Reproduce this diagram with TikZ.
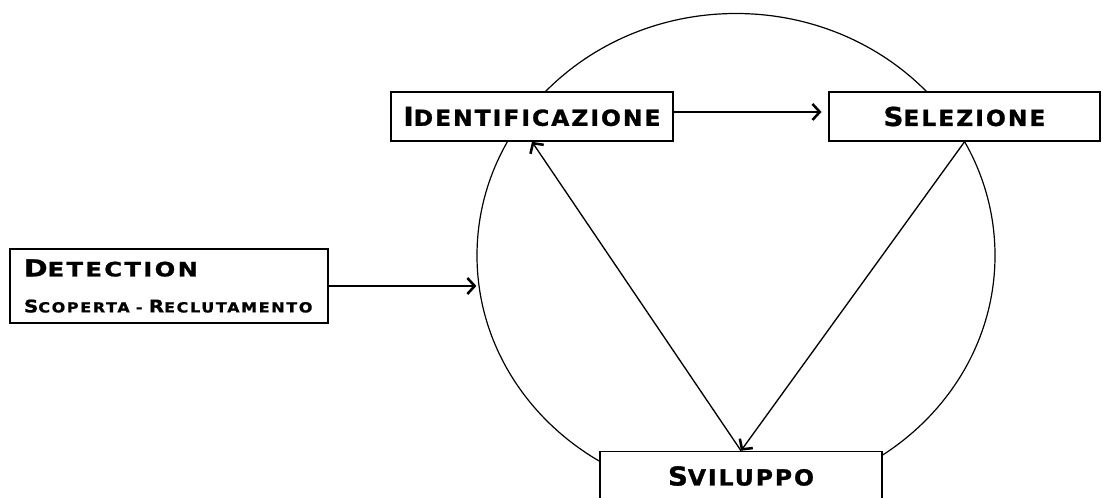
\documentclass[tikz,border=0pt]{standalone}
\usepackage{fontspec}
\usepackage{graphicx}
\usetikzlibrary{shapes.geometric,arrows.meta,shadows}
\newfontfamily\copperfont{DejaVu Sans}[LetterSpace=9,FakeBold=1.2,FakeStretch=1.06]
\newcommand\capword[3][0.85]{#2\scalebox{#1}{#3}}

\begin{document}
\begin{tikzpicture}[x=0.75pt,y=-0.75pt,
  >={Straight Barb[length=5.5pt,width=12pt,line width=1.9pt]},
  phase/.style={draw,line width=1.2pt,fill=white,minimum width=211.5pt,
    minimum height=36.75pt,inner sep=0pt,
    font=\copperfont\bfseries\fontsize{19.5}{22}\selectfont,
    drop shadow={shadow xshift=1pt,shadow yshift=-1pt,opacity=0.25}},
  link/.style={->,line width=1pt}]

\useasboundingbox (0,0) rectangle (1103,497);

% ---- Cycle ----
\node[ellipse,draw,line width=0.9pt,minimum width=388.5pt,minimum height=363pt,inner sep=0pt] (cycle) at (736,255.5) {};

% ---- Phases ----
\node[phase] (ident) at (532,116.5) {\capword{I}{DENTIFICAZIONE}};
\node[phase,minimum width=203.25pt] (sel) at (964.5,116.5) {\capword{S}{ELEZIONE}};
\node[phase] (svil) at (741,476) {\capword{S}{VILUPPO}};

% ---- Detection ----
\node[phase,minimum width=238.5pt,minimum height=55.5pt,text width=217.5pt,
  align=left,inner xsep=10.5pt,
  font=\copperfont\bfseries\fontsize{17.5}{22}\selectfont] (det) at (169,286)
  {{\addfontfeatures{FakeStretch=1.22,LetterSpace=12}\capword{D}{ETECTION}}\\[5pt]
   {\fontsize{13}{15}\selectfont\addfontfeatures{FakeStretch=1.15,LetterSpace=12}%
    \capword[0.8]{S}{COPERTA - }\capword[0.8]{R}{ECLUTAMENTO}}};

% ---- Links ----
\draw[link,shorten >=5pt] ([yshift=3.4pt]ident.east) -- ([yshift=3.4pt]sel.west);
\draw[link] (sel.south) -- (svil.north);
\draw[link] (svil.north) -- (ident.south);
\draw[link] (det.east) -- (det.east -| cycle.west);

\end{tikzpicture}
\end{document}
